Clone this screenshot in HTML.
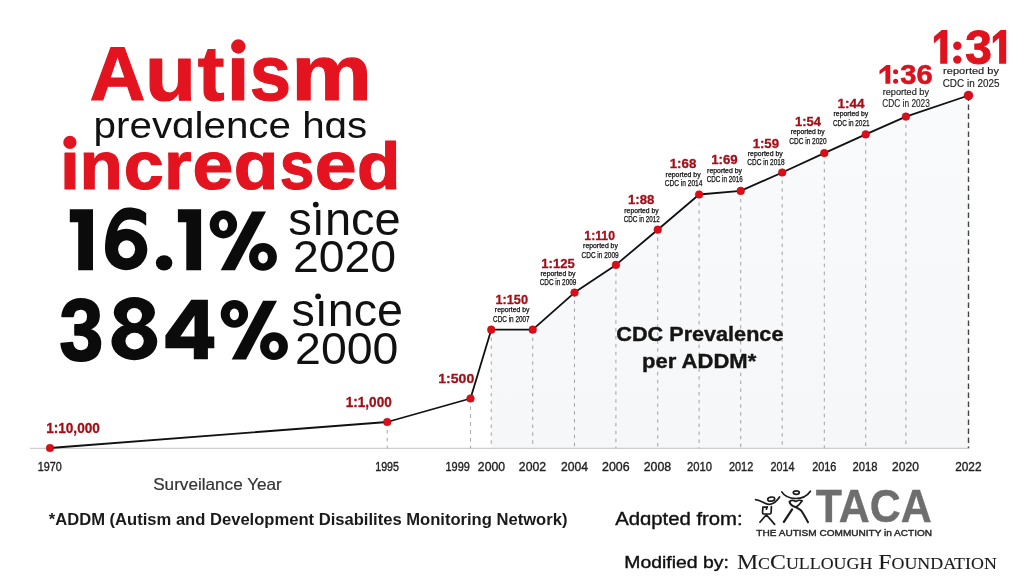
<!DOCTYPE html>
<html><head><meta charset="utf-8"><title>Autism prevalence</title>
<style>
html,body{margin:0;padding:0;background:#fff;}
body{width:1024px;height:580px;overflow:hidden;font-family:"Liberation Sans", sans-serif;}
svg{display:block;will-change:transform;}
</style></head><body>
<svg width="1024" height="580" viewBox="0 0 1024 580">
<rect width="1024" height="580" fill="#fff"/>
<defs><linearGradient id="g" x1="0" y1="0" x2="0" y2="1"><stop offset="0" stop-color="#f9fafb"/><stop offset="1" stop-color="#f6f7f9"/></linearGradient></defs>
<polygon points="491.25,329.7 532.7,329.7 574.5,292.6 615.9,264.9 657.7,229.7 699.1,194.5 740.7,190.9 782.2,172.5 824.3,153.1 865.7,134.4 905.9,116.6 968.5,95.5 968.5,448.3 491.25,448.3" fill="url(#g)"/>
<line x1="30" y1="448.3" x2="968.5" y2="448.3" stroke="#c4c4c4" stroke-width="1"/>
<line x1="387.2" y1="422.0" x2="387.2" y2="448.3" stroke="#999" stroke-width="0.9" stroke-dasharray="3.5 4.4"/>
<line x1="470.5" y1="398.5" x2="470.5" y2="448.3" stroke="#999" stroke-width="0.9" stroke-dasharray="3.5 4.4"/>
<line x1="491.25" y1="329.7" x2="491.25" y2="448.3" stroke="#999" stroke-width="0.9" stroke-dasharray="3.5 4.4"/>
<line x1="532.7" y1="329.7" x2="532.7" y2="448.3" stroke="#999" stroke-width="0.9" stroke-dasharray="3.5 4.4"/>
<line x1="574.5" y1="292.6" x2="574.5" y2="448.3" stroke="#999" stroke-width="0.9" stroke-dasharray="3.5 4.4"/>
<line x1="615.9" y1="264.9" x2="615.9" y2="448.3" stroke="#999" stroke-width="0.9" stroke-dasharray="3.5 4.4"/>
<line x1="657.7" y1="229.7" x2="657.7" y2="448.3" stroke="#999" stroke-width="0.9" stroke-dasharray="3.5 4.4"/>
<line x1="699.1" y1="194.5" x2="699.1" y2="448.3" stroke="#999" stroke-width="0.9" stroke-dasharray="3.5 4.4"/>
<line x1="740.7" y1="190.9" x2="740.7" y2="448.3" stroke="#999" stroke-width="0.9" stroke-dasharray="3.5 4.4"/>
<line x1="782.2" y1="172.5" x2="782.2" y2="448.3" stroke="#999" stroke-width="0.9" stroke-dasharray="3.5 4.4"/>
<line x1="824.3" y1="153.1" x2="824.3" y2="448.3" stroke="#999" stroke-width="0.9" stroke-dasharray="3.5 4.4"/>
<line x1="865.7" y1="134.4" x2="865.7" y2="448.3" stroke="#999" stroke-width="0.9" stroke-dasharray="3.5 4.4"/>
<line x1="905.9" y1="116.6" x2="905.9" y2="448.3" stroke="#999" stroke-width="0.9" stroke-dasharray="3.5 4.4"/>
<line x1="968.5" y1="95.5" x2="968.5" y2="448.3" stroke="#444" stroke-width="1.4" stroke-dasharray="5.5 3.5"/>
<polyline points="50.0,448.0 387.2,422.0 470.5,398.5 491.25,329.7 532.7,329.7 574.5,292.6 615.9,264.9 657.7,229.7 699.1,194.5 740.7,190.9 782.2,172.5 824.3,153.1 865.7,134.4 905.9,116.6 968.5,95.5" fill="none" stroke="#111" stroke-width="1.8" stroke-linejoin="round"/>
<circle cx="50.0" cy="448.0" r="3.85" fill="#dc0d17" stroke="#b00a12" stroke-width="0.5"/>
<circle cx="387.2" cy="422.0" r="3.85" fill="#dc0d17" stroke="#b00a12" stroke-width="0.5"/>
<circle cx="470.5" cy="398.5" r="3.85" fill="#dc0d17" stroke="#b00a12" stroke-width="0.5"/>
<circle cx="491.25" cy="329.7" r="3.85" fill="#dc0d17" stroke="#b00a12" stroke-width="0.5"/>
<circle cx="532.7" cy="329.7" r="3.85" fill="#dc0d17" stroke="#b00a12" stroke-width="0.5"/>
<circle cx="574.5" cy="292.6" r="3.85" fill="#dc0d17" stroke="#b00a12" stroke-width="0.5"/>
<circle cx="615.9" cy="264.9" r="3.85" fill="#dc0d17" stroke="#b00a12" stroke-width="0.5"/>
<circle cx="657.7" cy="229.7" r="3.85" fill="#dc0d17" stroke="#b00a12" stroke-width="0.5"/>
<circle cx="699.1" cy="194.5" r="3.85" fill="#dc0d17" stroke="#b00a12" stroke-width="0.5"/>
<circle cx="740.7" cy="190.9" r="3.85" fill="#dc0d17" stroke="#b00a12" stroke-width="0.5"/>
<circle cx="782.2" cy="172.5" r="3.85" fill="#dc0d17" stroke="#b00a12" stroke-width="0.5"/>
<circle cx="824.3" cy="153.1" r="3.85" fill="#dc0d17" stroke="#b00a12" stroke-width="0.5"/>
<circle cx="865.7" cy="134.4" r="3.85" fill="#dc0d17" stroke="#b00a12" stroke-width="0.5"/>
<circle cx="905.9" cy="116.6" r="3.85" fill="#dc0d17" stroke="#b00a12" stroke-width="0.5"/>
<circle cx="968.5" cy="95.5" r="4.5" fill="#dc0d17" stroke="#b00a12" stroke-width="0.5"/>
<text x="89.72" y="100.00" font-size="75.5" font-weight="700" fill="#e3141f" font-family='"Liberation Sans", sans-serif' textLength="55.62" lengthAdjust="spacingAndGlyphs" stroke="#e3141f" stroke-width="1.2" stroke-linejoin="round">A</text>
<text x="145.10" y="100.00" font-size="78" font-weight="700" fill="#e3141f" font-family='"Liberation Sans", sans-serif' textLength="50.94" lengthAdjust="spacingAndGlyphs" stroke="#e3141f" stroke-width="1.2" stroke-linejoin="round">u</text>
<text x="197.77" y="100.00" font-size="78" font-weight="700" fill="#e3141f" font-family='"Liberation Sans", sans-serif' textLength="26.67" lengthAdjust="spacingAndGlyphs" stroke="#e3141f" stroke-width="1.2" stroke-linejoin="round">t</text>
<text x="226.81" y="100.00" font-size="78" font-weight="700" fill="#e3141f" font-family='"Liberation Sans", sans-serif' textLength="22.63" lengthAdjust="spacingAndGlyphs" stroke="#e3141f" stroke-width="1.2" stroke-linejoin="round">ı</text>
<text x="249.76" y="100.00" font-size="78" font-weight="700" fill="#e3141f" font-family='"Liberation Sans", sans-serif' textLength="41.30" lengthAdjust="spacingAndGlyphs" stroke="#e3141f" stroke-width="1.2" stroke-linejoin="round">s</text>
<text x="291.21" y="100.00" font-size="78" font-weight="700" fill="#e3141f" font-family='"Liberation Sans", sans-serif' textLength="80.73" lengthAdjust="spacingAndGlyphs" stroke="#e3141f" stroke-width="1.2" stroke-linejoin="round">m</text>
<text x="93.57" y="137.90" font-size="37" font-weight="400" fill="#111" font-family='"Liberation Sans", sans-serif' textLength="273.66" lengthAdjust="spacingAndGlyphs">prevɑlence hɑs</text>
<text x="60.12" y="189.30" font-size="69" font-weight="700" fill="#e3141f" font-family='"Liberation Sans", sans-serif' textLength="19.81" lengthAdjust="spacingAndGlyphs" stroke="#e3141f" stroke-width="1.2" stroke-linejoin="round">ı</text>
<text x="79.43" y="189.30" font-size="69" font-weight="700" fill="#e3141f" font-family='"Liberation Sans", sans-serif' textLength="43.33" lengthAdjust="spacingAndGlyphs" stroke="#e3141f" stroke-width="1.2" stroke-linejoin="round">n</text>
<text x="123.82" y="189.30" font-size="69" font-weight="700" fill="#e3141f" font-family='"Liberation Sans", sans-serif' textLength="39.98" lengthAdjust="spacingAndGlyphs" stroke="#e3141f" stroke-width="1.2" stroke-linejoin="round">c</text>
<text x="164.14" y="189.30" font-size="69" font-weight="700" fill="#e3141f" font-family='"Liberation Sans", sans-serif' textLength="27.53" lengthAdjust="spacingAndGlyphs" stroke="#e3141f" stroke-width="1.2" stroke-linejoin="round">r</text>
<text x="192.62" y="189.30" font-size="69" font-weight="700" fill="#e3141f" font-family='"Liberation Sans", sans-serif' textLength="40.75" lengthAdjust="spacingAndGlyphs" stroke="#e3141f" stroke-width="1.2" stroke-linejoin="round">e</text>
<text x="233.65" y="189.30" font-size="69" font-weight="700" fill="#e3141f" font-family='"Liberation Sans", sans-serif' textLength="44.63" lengthAdjust="spacingAndGlyphs" stroke="#e3141f" stroke-width="1.2" stroke-linejoin="round">ɑ</text>
<text x="279.65" y="189.30" font-size="69" font-weight="700" fill="#e3141f" font-family='"Liberation Sans", sans-serif' textLength="34.55" lengthAdjust="spacingAndGlyphs" stroke="#e3141f" stroke-width="1.2" stroke-linejoin="round">s</text>
<text x="314.76" y="189.30" font-size="69" font-weight="700" fill="#e3141f" font-family='"Liberation Sans", sans-serif' textLength="41.85" lengthAdjust="spacingAndGlyphs" stroke="#e3141f" stroke-width="1.2" stroke-linejoin="round">e</text>
<text x="357.10" y="189.30" font-size="67" font-weight="700" fill="#e3141f" font-family='"Liberation Sans", sans-serif' textLength="43.42" lengthAdjust="spacingAndGlyphs" stroke="#e3141f" stroke-width="1.2" stroke-linejoin="round">d</text>
<text x="288.35" y="234.60" font-size="47" font-weight="400" fill="#111" font-family='"Liberation Sans", sans-serif' textLength="112.32" lengthAdjust="spacingAndGlyphs">sınce</text>
<text x="292.93" y="272.40" font-size="43.5" font-weight="400" fill="#111" font-family='"Liberation Sans", sans-serif' textLength="103.17" lengthAdjust="spacingAndGlyphs">2020</text>
<text x="59.40" y="360.20" font-size="87" font-weight="700" fill="#0b0b0b" font-family='"Liberation Sans", sans-serif' textLength="43.61" lengthAdjust="spacingAndGlyphs" stroke="#0b0b0b" stroke-width="2.2" stroke-linejoin="round">3</text>
<text x="291.55" y="326.20" font-size="47" font-weight="400" fill="#111" font-family='"Liberation Sans", sans-serif' textLength="111.52" lengthAdjust="spacingAndGlyphs">sınce</text>
<text x="295.11" y="364.10" font-size="44" font-weight="400" fill="#111" font-family='"Liberation Sans", sans-serif' textLength="103.35" lengthAdjust="spacingAndGlyphs">2000</text>
<text x="37.87" y="471.30" font-size="12" font-weight="400" fill="#222" font-family='"Liberation Sans", sans-serif' textLength="23.99" lengthAdjust="spacingAndGlyphs" stroke="#222" stroke-width="0.35" stroke-linejoin="round">1970</text>
<text x="375.23" y="471.30" font-size="12" font-weight="400" fill="#222" font-family='"Liberation Sans", sans-serif' textLength="23.77" lengthAdjust="spacingAndGlyphs" stroke="#222" stroke-width="0.35" stroke-linejoin="round">1995</text>
<text x="445.53" y="471.30" font-size="12" font-weight="400" fill="#222" font-family='"Liberation Sans", sans-serif' textLength="24.32" lengthAdjust="spacingAndGlyphs" stroke="#222" stroke-width="0.35" stroke-linejoin="round">1999</text>
<text x="477.85" y="471.30" font-size="12" font-weight="400" fill="#222" font-family='"Liberation Sans", sans-serif' textLength="27.15" lengthAdjust="spacingAndGlyphs" stroke="#222" stroke-width="0.35" stroke-linejoin="round">2000</text>
<text x="518.89" y="471.30" font-size="12" font-weight="400" fill="#222" font-family='"Liberation Sans", sans-serif' textLength="27.22" lengthAdjust="spacingAndGlyphs" stroke="#222" stroke-width="0.35" stroke-linejoin="round">2002</text>
<text x="561.00" y="471.30" font-size="12" font-weight="400" fill="#222" font-family='"Liberation Sans", sans-serif' textLength="27.00" lengthAdjust="spacingAndGlyphs" stroke="#222" stroke-width="0.35" stroke-linejoin="round">2004</text>
<text x="602.00" y="471.30" font-size="12" font-weight="400" fill="#222" font-family='"Liberation Sans", sans-serif' textLength="27.54" lengthAdjust="spacingAndGlyphs" stroke="#222" stroke-width="0.35" stroke-linejoin="round">2006</text>
<text x="643.73" y="471.30" font-size="12" font-weight="400" fill="#222" font-family='"Liberation Sans", sans-serif' textLength="27.44" lengthAdjust="spacingAndGlyphs" stroke="#222" stroke-width="0.35" stroke-linejoin="round">2008</text>
<text x="687.00" y="471.30" font-size="12" font-weight="400" fill="#222" font-family='"Liberation Sans", sans-serif' textLength="25.00" lengthAdjust="spacingAndGlyphs" stroke="#222" stroke-width="0.35" stroke-linejoin="round">2010</text>
<text x="728.98" y="471.30" font-size="12" font-weight="400" fill="#222" font-family='"Liberation Sans", sans-serif' textLength="24.29" lengthAdjust="spacingAndGlyphs" stroke="#222" stroke-width="0.35" stroke-linejoin="round">2012</text>
<text x="770.47" y="471.30" font-size="12" font-weight="400" fill="#222" font-family='"Liberation Sans", sans-serif' textLength="23.95" lengthAdjust="spacingAndGlyphs" stroke="#222" stroke-width="0.35" stroke-linejoin="round">2014</text>
<text x="812.14" y="471.30" font-size="12" font-weight="400" fill="#222" font-family='"Liberation Sans", sans-serif' textLength="24.21" lengthAdjust="spacingAndGlyphs" stroke="#222" stroke-width="0.35" stroke-linejoin="round">2016</text>
<text x="852.53" y="471.30" font-size="12" font-weight="400" fill="#222" font-family='"Liberation Sans", sans-serif' textLength="24.92" lengthAdjust="spacingAndGlyphs" stroke="#222" stroke-width="0.35" stroke-linejoin="round">2018</text>
<text x="892.04" y="471.30" font-size="12" font-weight="400" fill="#222" font-family='"Liberation Sans", sans-serif' textLength="26.87" lengthAdjust="spacingAndGlyphs" stroke="#222" stroke-width="0.35" stroke-linejoin="round">2020</text>
<text x="955.18" y="471.30" font-size="12" font-weight="400" fill="#222" font-family='"Liberation Sans", sans-serif' textLength="26.33" lengthAdjust="spacingAndGlyphs" stroke="#222" stroke-width="0.35" stroke-linejoin="round">2022</text>
<text x="46.13" y="432.90" font-size="14" font-weight="700" fill="#a20f18" font-family='"Liberation Sans", sans-serif' textLength="53.72" lengthAdjust="spacingAndGlyphs" stroke="#a20f18" stroke-width="0.3" stroke-linejoin="round">1:10,000</text>
<text x="345.72" y="406.70" font-size="14" font-weight="700" fill="#a20f18" font-family='"Liberation Sans", sans-serif' textLength="46.02" lengthAdjust="spacingAndGlyphs" stroke="#a20f18" stroke-width="0.3" stroke-linejoin="round">1:1,000</text>
<text x="438.31" y="382.80" font-size="13.6" font-weight="700" fill="#a20f18" font-family='"Liberation Sans", sans-serif' textLength="35.96" lengthAdjust="spacingAndGlyphs" stroke="#a20f18" stroke-width="0.3" stroke-linejoin="round">1:500</text>
<text x="495.48" y="304.00" font-size="13" font-weight="700" fill="#a20f18" font-family='"Liberation Sans", sans-serif' textLength="32.52" lengthAdjust="spacingAndGlyphs" stroke="#a20f18" stroke-width="0.3" stroke-linejoin="round">1:150</text>
<text x="494.86" y="312.40" font-size="6.6" font-weight="400" fill="#111" font-family='"Liberation Sans", sans-serif' textLength="34.47" lengthAdjust="spacingAndGlyphs" stroke="#111" stroke-width="0.25" stroke-linejoin="round">reported by</text>
<text x="493.10" y="321.60" font-size="8.2" font-weight="400" fill="#111" font-family='"Liberation Sans", sans-serif' textLength="36.51" lengthAdjust="spacingAndGlyphs" stroke="#111" stroke-width="0.25" stroke-linejoin="round">CDC in 2007</text>
<text x="541.29" y="267.70" font-size="13" font-weight="700" fill="#a20f18" font-family='"Liberation Sans", sans-serif' textLength="33.41" lengthAdjust="spacingAndGlyphs" stroke="#a20f18" stroke-width="0.3" stroke-linejoin="round">1:125</text>
<text x="540.53" y="275.50" font-size="6.6" font-weight="400" fill="#111" font-family='"Liberation Sans", sans-serif' textLength="34.99" lengthAdjust="spacingAndGlyphs" stroke="#111" stroke-width="0.25" stroke-linejoin="round">reported by</text>
<text x="539.68" y="285.10" font-size="8.2" font-weight="400" fill="#111" font-family='"Liberation Sans", sans-serif' textLength="36.64" lengthAdjust="spacingAndGlyphs" stroke="#111" stroke-width="0.25" stroke-linejoin="round">CDC in 2009</text>
<text x="584.36" y="239.60" font-size="13" font-weight="700" fill="#a20f18" font-family='"Liberation Sans", sans-serif' textLength="30.58" lengthAdjust="spacingAndGlyphs" stroke="#a20f18" stroke-width="0.3" stroke-linejoin="round">1:110</text>
<text x="583.13" y="248.00" font-size="6.6" font-weight="400" fill="#111" font-family='"Liberation Sans", sans-serif' textLength="34.75" lengthAdjust="spacingAndGlyphs" stroke="#111" stroke-width="0.25" stroke-linejoin="round">reported by</text>
<text x="581.52" y="257.60" font-size="8.2" font-weight="400" fill="#111" font-family='"Liberation Sans", sans-serif' textLength="37.11" lengthAdjust="spacingAndGlyphs" stroke="#111" stroke-width="0.25" stroke-linejoin="round">CDC in 2009</text>
<text x="628.06" y="204.40" font-size="13" font-weight="700" fill="#a20f18" font-family='"Liberation Sans", sans-serif' textLength="26.27" lengthAdjust="spacingAndGlyphs" stroke="#a20f18" stroke-width="0.3" stroke-linejoin="round">1:88</text>
<text x="624.35" y="212.50" font-size="6.6" font-weight="400" fill="#111" font-family='"Liberation Sans", sans-serif' textLength="34.36" lengthAdjust="spacingAndGlyphs" stroke="#111" stroke-width="0.25" stroke-linejoin="round">reported by</text>
<text x="623.70" y="222.10" font-size="8.2" font-weight="400" fill="#111" font-family='"Liberation Sans", sans-serif' textLength="36.17" lengthAdjust="spacingAndGlyphs" stroke="#111" stroke-width="0.25" stroke-linejoin="round">CDC in 2012</text>
<text x="669.70" y="168.40" font-size="13" font-weight="700" fill="#a20f18" font-family='"Liberation Sans", sans-serif' textLength="26.61" lengthAdjust="spacingAndGlyphs" stroke="#a20f18" stroke-width="0.3" stroke-linejoin="round">1:68</text>
<text x="665.60" y="176.50" font-size="6.6" font-weight="400" fill="#111" font-family='"Liberation Sans", sans-serif' textLength="35.00" lengthAdjust="spacingAndGlyphs" stroke="#111" stroke-width="0.25" stroke-linejoin="round">reported by</text>
<text x="664.68" y="185.80" font-size="8.2" font-weight="400" fill="#111" font-family='"Liberation Sans", sans-serif' textLength="37.79" lengthAdjust="spacingAndGlyphs" stroke="#111" stroke-width="0.25" stroke-linejoin="round">CDC in 2014</text>
<text x="711.21" y="164.40" font-size="13" font-weight="700" fill="#a20f18" font-family='"Liberation Sans", sans-serif' textLength="26.45" lengthAdjust="spacingAndGlyphs" stroke="#a20f18" stroke-width="0.3" stroke-linejoin="round">1:69</text>
<text x="707.10" y="172.50" font-size="6.6" font-weight="400" fill="#111" font-family='"Liberation Sans", sans-serif' textLength="34.90" lengthAdjust="spacingAndGlyphs" stroke="#111" stroke-width="0.25" stroke-linejoin="round">reported by</text>
<text x="706.73" y="181.90" font-size="8.2" font-weight="400" fill="#111" font-family='"Liberation Sans", sans-serif' textLength="35.93" lengthAdjust="spacingAndGlyphs" stroke="#111" stroke-width="0.25" stroke-linejoin="round">CDC in 2016</text>
<text x="752.67" y="147.50" font-size="13" font-weight="700" fill="#a20f18" font-family='"Liberation Sans", sans-serif' textLength="26.33" lengthAdjust="spacingAndGlyphs" stroke="#a20f18" stroke-width="0.3" stroke-linejoin="round">1:59</text>
<text x="747.80" y="155.70" font-size="6.6" font-weight="400" fill="#111" font-family='"Liberation Sans", sans-serif' textLength="35.00" lengthAdjust="spacingAndGlyphs" stroke="#111" stroke-width="0.25" stroke-linejoin="round">reported by</text>
<text x="747.34" y="164.90" font-size="8.2" font-weight="400" fill="#111" font-family='"Liberation Sans", sans-serif' textLength="37.19" lengthAdjust="spacingAndGlyphs" stroke="#111" stroke-width="0.25" stroke-linejoin="round">CDC in 2018</text>
<text x="795.00" y="126.20" font-size="13" font-weight="700" fill="#a20f18" font-family='"Liberation Sans", sans-serif' textLength="26.00" lengthAdjust="spacingAndGlyphs" stroke="#a20f18" stroke-width="0.3" stroke-linejoin="round">1:54</text>
<text x="790.67" y="134.40" font-size="6.6" font-weight="400" fill="#111" font-family='"Liberation Sans", sans-serif' textLength="34.07" lengthAdjust="spacingAndGlyphs" stroke="#111" stroke-width="0.25" stroke-linejoin="round">reported by</text>
<text x="789.31" y="143.70" font-size="8.2" font-weight="400" fill="#111" font-family='"Liberation Sans", sans-serif' textLength="37.32" lengthAdjust="spacingAndGlyphs" stroke="#111" stroke-width="0.25" stroke-linejoin="round">CDC in 2020</text>
<text x="837.52" y="107.70" font-size="13" font-weight="700" fill="#a20f18" font-family='"Liberation Sans", sans-serif' textLength="27.04" lengthAdjust="spacingAndGlyphs" stroke="#a20f18" stroke-width="0.3" stroke-linejoin="round">1:44</text>
<text x="833.57" y="116.40" font-size="6.6" font-weight="400" fill="#111" font-family='"Liberation Sans", sans-serif' textLength="34.72" lengthAdjust="spacingAndGlyphs" stroke="#111" stroke-width="0.25" stroke-linejoin="round">reported by</text>
<text x="833.00" y="125.50" font-size="8.2" font-weight="400" fill="#111" font-family='"Liberation Sans", sans-serif' textLength="36.51" lengthAdjust="spacingAndGlyphs" stroke="#111" stroke-width="0.25" stroke-linejoin="round">CDC in 2021</text>
<text x="900.33" y="84.00" font-size="28" font-weight="700" fill="#d9121d" font-family='"Liberation Sans", sans-serif' textLength="32.34" lengthAdjust="spacingAndGlyphs" stroke="#d9121d" stroke-width="0.6" stroke-linejoin="round">36</text>
<text x="882.74" y="94.80" font-size="8.4" font-weight="400" fill="#222" font-family='"Liberation Sans", sans-serif' textLength="46.26" lengthAdjust="spacingAndGlyphs" stroke="#222" stroke-width="0.15" stroke-linejoin="round">reported by</text>
<text x="882.35" y="106.90" font-size="10.9" font-weight="400" fill="#222" font-family='"Liberation Sans", sans-serif' textLength="47.50" lengthAdjust="spacingAndGlyphs" stroke="#222" stroke-width="0.15" stroke-linejoin="round">CDC in 2023</text>
<text x="965.16" y="63.90" font-size="48.5" font-weight="700" fill="#e0121d" font-family='"Liberation Sans", sans-serif' textLength="26.65" lengthAdjust="spacingAndGlyphs" stroke="#e0121d" stroke-width="1.0" stroke-linejoin="round">3</text>
<text x="943.14" y="74.30" font-size="8.2" font-weight="400" fill="#222" font-family='"Liberation Sans", sans-serif' textLength="55.86" lengthAdjust="spacingAndGlyphs" stroke="#222" stroke-width="0.15" stroke-linejoin="round">reported by</text>
<text x="942.73" y="87.20" font-size="11.0" font-weight="400" fill="#222" font-family='"Liberation Sans", sans-serif' textLength="56.71" lengthAdjust="spacingAndGlyphs" stroke="#222" stroke-width="0.15" stroke-linejoin="round">CDC in 2025</text>
<text x="616.37" y="341.40" font-size="20.8" font-weight="700" fill="#151515" font-family='"Liberation Sans", sans-serif' textLength="167.05" lengthAdjust="spacingAndGlyphs" stroke="#151515" stroke-width="0.4" stroke-linejoin="round">CDC Prevalence</text>
<text x="641.99" y="368.10" font-size="20.8" font-weight="700" fill="#151515" font-family='"Liberation Sans", sans-serif' textLength="114.23" lengthAdjust="spacingAndGlyphs" stroke="#151515" stroke-width="0.4" stroke-linejoin="round">per ADDM*</text>
<text x="153.18" y="490.00" font-size="16.5" font-weight="400" fill="#333" font-family='"Liberation Sans", sans-serif' textLength="128.64" lengthAdjust="spacingAndGlyphs" stroke="#333" stroke-width="0.2" stroke-linejoin="round">Surveilance Year</text>
<text x="48.80" y="524.90" font-size="15.8" font-weight="700" fill="#1a1a1a" font-family='"Liberation Sans", sans-serif' textLength="518.61" lengthAdjust="spacingAndGlyphs">*ADDM (Autism and Development Disabilites Monitoring Network)</text>
<text x="615.19" y="525.30" font-size="18.6" font-weight="400" fill="#111" font-family='"Liberation Sans", sans-serif' textLength="127.47" lengthAdjust="spacingAndGlyphs" stroke="#111" stroke-width="0.4" stroke-linejoin="round">Adɑpted from:</text>
<text x="624.34" y="568.30" font-size="17" font-weight="400" fill="#111" font-family='"Liberation Sans", sans-serif' textLength="104.52" lengthAdjust="spacingAndGlyphs" stroke="#111" stroke-width="0.4" stroke-linejoin="round">Modified by:</text>
<text x="737.00" y="569.30" font-size="21.5" font-weight="400" fill="#1a1a1a" font-family='"Liberation Serif", serif' textLength="259.82" lengthAdjust="spacingAndGlyphs" stroke="#1a1a1a" stroke-width="0.1" stroke-linejoin="round">M<tspan font-size="16.2">C</tspan>C<tspan font-size="16.2">ULLOUGH</tspan> F<tspan font-size="16.2">OUNDATION</tspan></text>
<text x="815.79" y="521.80" font-size="46.5" font-weight="700" fill="#6e6e6e" font-family='"Liberation Sans", sans-serif' textLength="116.05" lengthAdjust="spacingAndGlyphs" stroke="#6e6e6e" stroke-width="0.4" stroke-linejoin="round">TACA</text>
<text x="756.38" y="535.80" font-size="9.6" font-weight="400" fill="#2a2a2a" font-family='"Liberation Sans", sans-serif' textLength="175.65" lengthAdjust="spacingAndGlyphs" stroke="#2a2a2a" stroke-width="0.45" stroke-linejoin="round">THE AUTISM COMMUNITY in ACTION</text>
<path d="M69.8 209.3 H93.0 V270.2 H78.2 V222.3 H69.8 Z" fill="#0b0b0b"/>
<path d="M105.1 249 C105.1 226 115 207.6 128.5 207.6 C137 207.6 142.5 210 146.2 213.2 L146.2 225.7 C141.5 221.8 136 219.6 130 219.6 C122.5 219.6 117.8 225.5 116.8 234 L116.8 249 Z" fill="#0b0b0b"/>
<ellipse cx="126.2" cy="249.5" rx="21.1" ry="20.7" fill="#0b0b0b"/>
<ellipse cx="126.6" cy="249.3" rx="8.5" ry="9" fill="#fff"/>
<ellipse cx="164.1" cy="262.8" rx="8.3" ry="7.6" fill="#0b0b0b"/>
<path d="M177.9 209.3 H201.1 V270.2 H186.3 V222.3 H177.9 Z" fill="#0b0b0b"/>
<g transform="translate(0 0)"><ellipse cx="223.4" cy="224.5" rx="13.7" ry="13.9" fill="#0b0b0b"/><ellipse cx="223.4" cy="225" rx="4.6" ry="5.9" fill="#fff"/><ellipse cx="263" cy="256.9" rx="13.9" ry="13.9" fill="#0b0b0b"/><ellipse cx="263" cy="257.4" rx="4.85" ry="6" fill="#fff"/><polygon points="252.1,211.5 266,211.5 235,270.2 220.7,270.2" fill="#0b0b0b"/></g>
<ellipse cx="134.35" cy="312.3" rx="20.6" ry="15.2" fill="#0b0b0b"/>
<ellipse cx="134.35" cy="341.7" rx="22.9" ry="18.5" fill="#0b0b0b"/>
<ellipse cx="134.4" cy="315.6" rx="7.6" ry="7.6" fill="#fff"/>
<ellipse cx="134.6" cy="341.1" rx="9.2" ry="8.3" fill="#fff"/>
<path d="M191.3 299.7 H207.9 V336.4 H214.3 V348.2 H207.9 V359.2 H193.8 V348.2 H165.4 V335.5 Z M180.4 336.4 H194.5 V315.6 Z" fill="#0b0b0b" fill-rule="evenodd"/>
<g transform="translate(11 89.3)"><ellipse cx="223.4" cy="224.5" rx="13.7" ry="13.9" fill="#0b0b0b"/><ellipse cx="223.4" cy="225" rx="4.6" ry="5.9" fill="#fff"/><ellipse cx="263" cy="256.9" rx="13.9" ry="13.9" fill="#0b0b0b"/><ellipse cx="263" cy="257.4" rx="4.85" ry="6" fill="#fff"/><polygon points="252.1,211.5 266,211.5 235,270.2 220.7,270.2" fill="#0b0b0b"/></g>
<circle cx="315.8" cy="204.6" r="2.9" fill="#111"/>
<circle cx="318.1" cy="296.3" r="2.9" fill="#111"/>
<circle cx="238.3" cy="46.5" r="7.2" fill="#e3141f"/>
<circle cx="69.9" cy="142.4" r="6.6" fill="#e3141f"/>
<polygon points="933.9,36.7 941.7,30.1 947.3,30.1 947.3,63.7 940.2,63.7 940.2,38.1 933.9,43.4" fill="#e0121d"/>
<circle cx="957.3" cy="45.7" r="4.2" fill="#e0121d"/><circle cx="957.3" cy="59.6" r="4.2" fill="#e0121d"/>
<polygon points="992.8,36.7 1000.6,30.1 1006.2,30.1 1006.2,63.7 999.1,63.7 999.1,38.1 992.8,43.4" fill="#e0121d"/>
<polygon points="879.5,70.6 886.4,65 890.3,65 890.3,83.7 885.4,83.7 885.4,70.2 879.5,74.4" fill="#d9121d"/>
<circle cx="895.6" cy="71.7" r="2.5" fill="#d9121d"/><circle cx="895.6" cy="81.2" r="2.5" fill="#d9121d"/>
<g fill="none" stroke="#1a1a1a" stroke-width="1.7" stroke-linecap="round" stroke-linejoin="round">
<path d="M755.6 499.6 C758.5 499.8 761 501.2 763.5 502.6 C766 504 768 504.6 770 504.3 C773 503.8 777 501 779.5 497"/>
<ellipse cx="771.2" cy="499.1" rx="3.5" ry="2.0" transform="rotate(-8 771.2 499.1)"/>
<path d="M767.3 506.8 L762.9 507.1 L762.5 512.6 Q762.6 514 764 514 L769.8 514 Q771.1 514 771.1 512.6 L771.4 506.6 M767.3 506.8 L766.4 509.2"/>
<path d="M766.4 514.8 L759.9 522.2 M766.4 514.8 C768.5 517.5 771.5 520.5 774.6 524.4"/>
<path d="M781.8 491.9 C784 495.5 789 498.4 795.5 498.5 C802 498.5 807.5 495.5 810.4 491.2"/>
<ellipse cx="796.3" cy="492.6" rx="3.0" ry="1.8"/>
<path d="M789.6 501.8 C790.5 500 793.5 500 795.8 501.5 C798 500.2 801 500.2 802.2 500.8 C800.5 503.5 798.5 505.5 795.8 507.2"/>
<path d="M789.6 501.8 C789.8 504 792 505.8 795.8 507.2 C798 508.5 800.5 509.5 801.5 511 C803.5 514 806 518.5 808 522.2" stroke-width="2"/>
<path d="M792.1 509.4 L783.9 521.9" stroke-width="2.2"/>
</g>
</svg>
</body></html>
